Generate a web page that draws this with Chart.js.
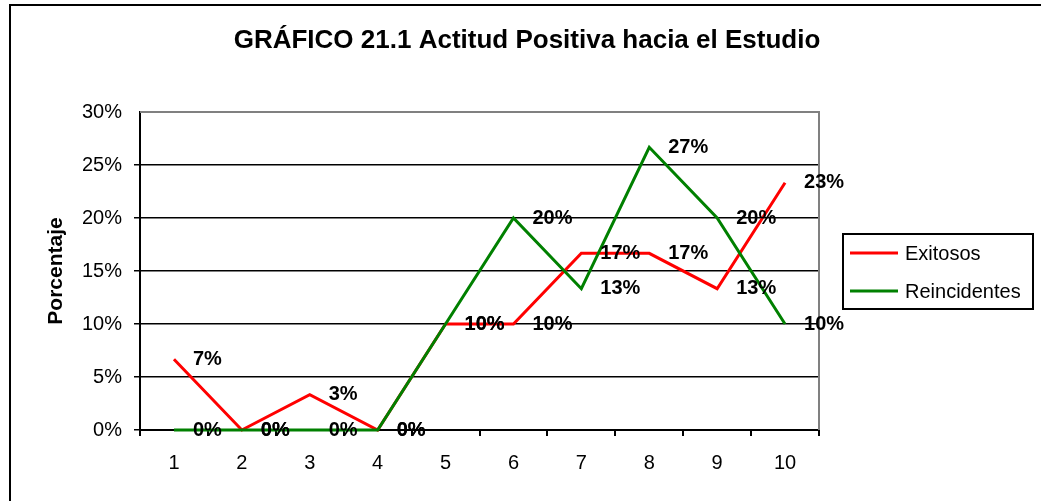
<!DOCTYPE html>
<html>
<head>
<meta charset="utf-8">
<script src="https://cdn.jsdelivr.net/npm/chart.js@4/dist/chart.umd.min.js"></script>
<style>
  html, body { margin: 0; padding: 0; background: #fff; overflow: hidden; }
  #marco { position: absolute; left: 9px; top: 4px; width: 1100px; height: 600px;
           border-left: 2px solid #000; border-top: 2px solid #000; }
  #contenedor { position: absolute; left: 0; top: 0; width: 1041px; height: 501px; }
</style>
</head>
<body>
<div id="marco"></div>
<div id="contenedor"><canvas id="grafico" width="1041" height="501"></canvas></div>
<script>
const categorias = ["1", "2", "3", "4", "5", "6", "7", "8", "9", "10"];
const exitosos = [6.67, 0, 3.33, 0, 10, 10, 16.67, 16.67, 13.33, 23.33];
const reincidentes = [0, 0, 0, 0, 10, 20, 13.33, 26.67, 20, 10];
const ticksY = [0, 5, 10, 15, 20, 25, 30];
const titulo = "GRÁFICO 21.1 Actitud Positiva hacia el Estudio";

/******************************************************************
 * Plugin: titulo, etiquetas de datos y leyenda con marco
 ******************************************************************/
const extras = {
  id: "extras",
  beforeDatasetsDraw: (chart) => {
    const { ctx, chartArea: a } = chart;
    ctx.save();
    ctx.strokeStyle = "#808080";
    ctx.lineWidth = 2;
    ctx.beginPath();
    ctx.moveTo(a.left, a.top);
    ctx.lineTo(a.right, a.top);
    ctx.lineTo(a.right, a.bottom);
    ctx.stroke();
    ctx.restore();
  },
  afterDatasetsDraw: (chart) => {
    const ctx = chart.ctx;
    ctx.save();
    ctx.font = "bold 20px Arial, 'Liberation Sans'";
    ctx.fillStyle = "#000";
    ctx.textAlign = "left";
    ctx.textBaseline = "middle";
    chart.data.datasets.forEach((ds, i) => {
      chart.getDatasetMeta(i).data.forEach((pt, j) => {
        ctx.fillText(Math.round(ds.data[j]) + "%", pt.x + 19, pt.y);
      });
    });
    ctx.restore();
  },
  afterDraw: (chart) => {
    const ctx = chart.ctx;
    ctx.save();
    // titulo
    ctx.font = "bold 26px Arial, 'Liberation Sans'";
    ctx.fillStyle = "#000";
    ctx.textAlign = "center";
    ctx.textBaseline = "middle";
    ctx.fillText(titulo, 527, 41);
    // leyenda
    ctx.strokeStyle = "#000";
    ctx.lineWidth = 2;
    ctx.strokeRect(843, 234, 190, 75);
    ctx.font = "20px Arial, 'Liberation Sans'";
    ctx.textAlign = "left";
    chart.data.datasets.forEach((ds, i) => {
      const y = 253 + i * 38;
      ctx.strokeStyle = ds.borderColor;
      ctx.lineWidth = 3;
      ctx.beginPath();
      ctx.moveTo(850, y);
      ctx.lineTo(898, y);
      ctx.stroke();
      ctx.fillText(ds.label, 905, y + 1);
    });
    ctx.restore();
  },
};

const canvas = document.getElementById("grafico");
new Chart(canvas, {
  type: "line",
  data: {
    labels: categorias,
    datasets: [
      { label: "Exitosos", data: exitosos, borderColor: "#ff0000", backgroundColor: "#ff0000", order: 1, clip: false },
      { label: "Reincidentes", data: reincidentes, borderColor: "#008000", backgroundColor: "#008000", order: 0, clip: false },
    ],
  },
  options: {
    responsive: false,
    animation: false,
    layout: { padding: { left: 0, top: 112, right: 222, bottom: 0 } },
    elements: {
      line: { borderWidth: 3, tension: 0 },
      point: { radius: 0, hoverRadius: 0 },
    },
    plugins: {
      legend: { display: false },
      title: { display: false },
      tooltip: { enabled: false },
    },
    scales: {
      x: {
        offset: true,
        grid: { offset: true, drawOnChartArea: false, tickLength: 6, color: "#000", lineWidth: 2 },
        border: { color: "#000", width: 2 },
        ticks: { color: "#000", font: { family: "Arial", size: 20 }, padding: 15, maxRotation: 0 },
        afterFit: (scale) => { scale.height = 71; },
      },
      y: {
        min: 0,
        max: 30,
        afterBuildTicks: (scale) => { scale.ticks = ticksY.map((v) => ({ value: v })); },
        grid: {
          tickLength: 6,
          color: (c) => (c.tick && c.tick.value === 30 ? "rgba(0,0,0,0)" : "#000"),
          lineWidth: 1.5,
        },
        border: { color: "#000", width: 2 },
        ticks: {
          color: "#000",
          font: { family: "Arial", size: 20 },
          padding: 12,
          callback: (v) => v + "%",
        },
        title: {
          display: true,
          text: "Porcentaje",
          color: "#000",
          font: { family: "Arial", size: 21, weight: "bold" },
          padding: { top: 44, bottom: 0 },
        },
        afterFit: (scale) => { scale.width = 140; },
      },
    },
  },
  plugins: [extras],
});
</script>
</body>
</html>
